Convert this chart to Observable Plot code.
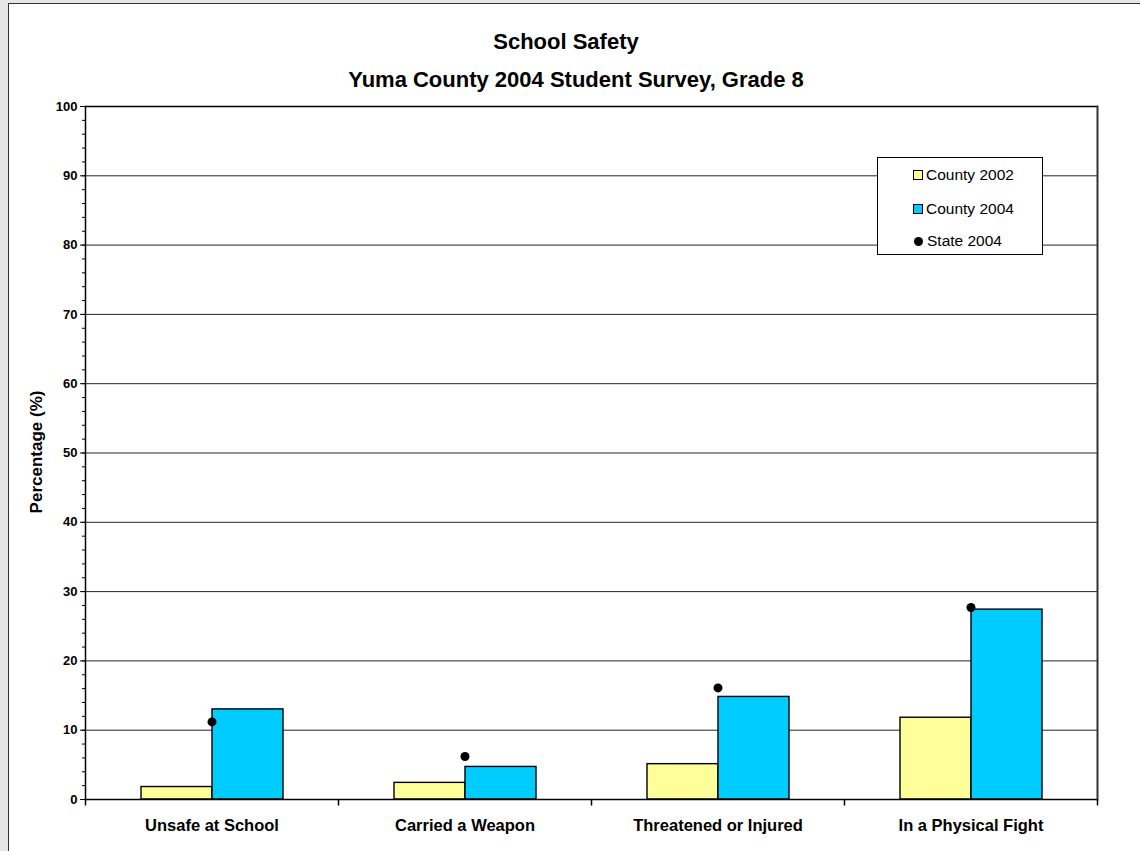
<!DOCTYPE html>
<html>
<head>
<meta charset="utf-8">
<script src="https://cdn.jsdelivr.net/npm/d3@7"></script>
<script src="https://cdn.jsdelivr.net/npm/@observablehq/plot@0.6"></script>
<style>
  html, body { margin: 0; padding: 0; background: #e6e6e6; }
  #wrap { position: relative; width: 1140px; height: 851px; overflow: hidden; font-family: "Liberation Sans", Arial, sans-serif; }
  #sheet { position: absolute; left: 8px; top: 3px; width: 1160px; height: 900px; background: #fff; border: 1px solid #333; }
  .title { position: absolute; width: 700px; text-align: center; font-weight: bold; color: #000; white-space: nowrap; font-size: 22px; line-height: 26px; }
  #chart { position: absolute; left: 0; top: 0; }
  #ylabel { position: absolute; left: 37px; top: 452px; transform: translate(-50%, -50%) rotate(-90deg); font-weight: bold; font-size: 17px; white-space: nowrap; }
  #legend { position: absolute; left: 877px; top: 157px; width: 164px; height: 96px; background: #fff; border: 1px solid #000; font-size: 15.5px; }
  .item { position: absolute; left: 35px; height: 20px; display: flex; align-items: center; white-space: nowrap; }
  .sw { width: 10px; height: 10px; border: 1px solid #000; margin-right: 3px; box-sizing: border-box; }
  .dot { width: 9px; height: 9px; border-radius: 50%; background: #000; margin-right: 4px; margin-left: 1px; }
</style>
</head>
<body>
<div id="wrap">
  <div id="sheet"></div>
  <div class="title" style="left:216px;top:29px;">School Safety</div>
  <div class="title" style="left:226px;top:67px;">Yuma County 2004 Student Survey, Grade 8</div>
  <div id="chart"></div>
  <div id="ylabel">Percentage (%)</div>
  <div id="legend"></div>
</div>
<script>
// ---- data ----
const categories = ["Unsafe at School", "Carried a Weapon", "Threatened or Injured", "In a Physical Fight"];
const seriesNames = ["County 2002", "County 2004"];
const county2002 = [1.8, 2.4, 5.1, 11.8];
const county2004 = [13.0, 4.7, 14.8, 27.4];
const state2004 = [11.2, 6.2, 16.1, 27.7];
const seriesColors = ["#ffff99", "#00ccff"];
const yTicks = d3.range(0, 101, 10);
const yMinorTicks = d3.range(0, 101, 2);

const bars = categories.flatMap((c, i) => [
  {category: c, series: seriesNames[0], value: county2002[i]},
  {category: c, series: seriesNames[1], value: county2004[i]}
]);
const stateRows = categories.map((c, i) => ({category: c, value: state2004[i]}));

const tickSymbol = { draw(ctx) { ctx.moveTo(0, 0); ctx.lineTo(0, 6); } };

const chart = Plot.plot({
  width: 1140,
  height: 851,
  marginLeft: 85,
  marginRight: 43,
  marginTop: 106,
  marginBottom: 52,
  style: { fontFamily: "'Liberation Sans', Arial, sans-serif", background: "transparent", color: "#000" },
  fx: { domain: categories, padding: 0, label: null },
  x: { domain: seriesNames, paddingInner: 0, paddingOuter: 0.757, axis: null },
  y: { domain: [0, 100], axis: null },
  color: { domain: seriesNames, range: seriesColors },
  marks: [
    Plot.gridY(yTicks.filter(t => t > 0 && t < 100), { stroke: "#000", strokeOpacity: 0.85 }),
    Plot.barY(bars, { fx: "category", x: "series", y: "value", fill: "series", stroke: "#000", strokeWidth: 1.4 }),
    Plot.ruleY([0, 100], { stroke: "#000", strokeWidth: 1.3 }),
    Plot.frame({ anchor: "left", facetAnchor: "left", stroke: "#000", strokeWidth: 1.5 }),
    Plot.frame({ anchor: "right", facetAnchor: "right", stroke: "#333", strokeWidth: 2 }),
    Plot.dot(stateRows, { fx: "category", y: "value", r: 4.5, fill: "#000" }),
    Plot.dot([0], { frameAnchor: "bottom-left", symbol: tickSymbol, stroke: "#000", fill: "none" }),
    Plot.dot([categories[categories.length - 1]], { fx: d => d, frameAnchor: "bottom-right", symbol: tickSymbol, stroke: "#000", fill: "none" }),
    Plot.axisY({ ticks: yMinorTicks, tickSize: 3, tickFormat: () => "", label: null }),
    Plot.axisY({ ticks: yTicks, tickSize: 5, tickPadding: 3, fontSize: 13, fontWeight: "bold", label: null }),
    Plot.axisFx({ anchor: "bottom", tickSize: 0, tickPadding: 20, fontSize: 16.5, fontWeight: "bold", label: null })
  ]
});
document.getElementById("chart").appendChild(chart);

// legend
const legend = document.getElementById("legend");
const legendItems = [
  { label: seriesNames[0], kind: "sw", color: seriesColors[0] },
  { label: seriesNames[1], kind: "sw", color: seriesColors[1] },
  { label: "State 2004", kind: "dot", color: "#000" }
];
const legendTops = [7, 41, 73];
legendItems.forEach((it, i) => {
  const row = document.createElement("div");
  row.className = "item";
  row.style.top = legendTops[i] + "px";
  const m = document.createElement("span");
  m.className = it.kind;
  m.style.background = it.color;
  row.appendChild(m);
  const t = document.createElement("span");
  t.textContent = it.label;
  row.appendChild(t);
  legend.appendChild(row);
});
</script>
</body>
</html>
